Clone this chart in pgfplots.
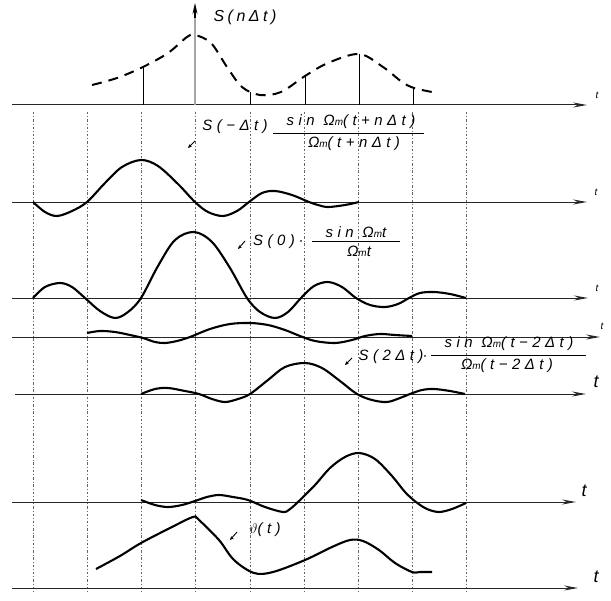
\documentclass[border=0pt]{standalone}
\usepackage{fontspec}
\setmainfont{Liberation Sans}
\newfontfamily\lab[LetterSpace=22]{Liberation Sans}
\newfontfamily\labw[LetterSpace=30]{Liberation Sans}
\usepackage{pgfplots}
\pgfplotsset{compat=1.18}
\usetikzlibrary{arrows.meta}
\newcommand{\sm}{{\fontsize{10}{11}\selectfont m}}
\tikzset{lbl/.style={font=\labw\itshape\fontsize{15}{17}\selectfont,inner sep=0pt}}
\begin{document}
\begin{tikzpicture}
\begin{axis}[width=611bp,height=601bp,scale only axis,
  xmin=0,xmax=611,ymin=0,ymax=601,y dir=reverse,hide axis,clip=false,
  curve/.style={black,line width=2.1bp,smooth,tension=0.55},
  ax/.style={black!85,line width=1bp,-{Stealth[length=14bp,width=5bp]}},
  grid/.style={black!60,line width=0.6bp,dash pattern=on 2.5bp off 2bp on 0.8bp off 2bp},
  stem/.style={black,line width=0.8bp},
  sarr/.style={black,line width=0.9bp,-{Stealth[length=4bp,width=3.5bp]}},
  ]
\addplot[draw=none] coordinates {(0,0) (611,601)};
% vertical dashed grid
\pgfplotsinvokeforeach{33,87,141,195,250,304,358,412,466}{
  \addplot[grid] coordinates {(#1,112) (#1,592)};
}
% axes
\addplot[ax] coordinates {(12,105) (587,105)};
\addplot[ax] coordinates {(12,202) (587,202)};
\addplot[ax] coordinates {(12,298) (588,298)};
\addplot[ax] coordinates {(12,337) (600,337)};
\addplot[ax] coordinates {(15,394) (586,394)};
\addplot[ax] coordinates {(12,502) (576,502)};
\addplot[ax] coordinates {(12,588) (578,588)};
% t labels
\node[lbl,font=\lab\itshape\fontsize{10}{11}\selectfont] at (axis cs:597,95) {t};
\node[lbl,font=\lab\itshape\fontsize{10}{11}\selectfont] at (axis cs:596,192) {t};
\node[lbl,font=\lab\itshape\fontsize{10}{11}\selectfont] at (axis cs:597,288) {t};
\node[lbl,font=\lab\itshape\fontsize{10}{11}\selectfont] at (axis cs:602,326) {t};
\node[lbl,font=\lab\itshape\fontsize{18}{20}\selectfont] at (axis cs:596,382) {t};
\node[lbl,font=\lab\itshape\fontsize{18}{20}\selectfont] at (axis cs:584,491) {t};
\node[lbl,font=\lab\itshape\fontsize{18}{20}\selectfont] at (axis cs:596,577) {t};
% top: sample sequence
\addplot[black,line width=2bp,dash pattern=on 10bp off 7bp,smooth,tension=0.55] coordinates {
(92,85)(117,78)(143,67)(168,53)(187,37)(195,35)(211,43)(227,67)(242,87)(260,95)(281,92)(305,76)(328,63)(359,54)(383,67)(402,82)(414,88)(432,92)};
\addplot[stem] coordinates {(143,105) (143,67)};
\addplot[stem] coordinates {(250,105) (250,92)};
\addplot[stem] coordinates {(305,105) (305,76)};
\addplot[stem] coordinates {(359,105) (359,54)};
\addplot[stem] coordinates {(413,105) (413,88)};
\addplot[black,line width=0.6bp,double=black!35,double distance=1.3bp] coordinates {(195,105) (195,16)};
\addplot[black,line width=1.2bp,-{Stealth[length=11bp,width=5bp]}] coordinates {(195,18) (195,3)};
\node[lbl,font=\lab\itshape\fontsize{16}{18}\selectfont] at (axis cs:245,17) {S(nΔt)};
% row 2
\addplot[curve] coordinates {
(33,202)(45,212)(57,216)(72,211)(87,202)(105,183)(122,167)(141,160)(158,166)(178,184)(195,202)(208,212)(223,216)(237,211)(249,202)(262,193)(275,191)(292,195)(309,202)(318,205)(328,207)(345,205)(359,202)};
\addplot[sarr] coordinates {(195,141) (188,148)};
\node[lbl] at (axis cs:235,127) {S(−Δt)};
\node[lbl] at (axis cs:351,122) {sin Ω\sm(t+nΔt)};
\addplot[black,line width=0.8bp] coordinates {(273,133) (424,133)};
\node[lbl] at (axis cs:354,144) {Ω\sm(t+nΔt)};
% row 3
\addplot[curve] coordinates {
(33,298)(45,287)(60,283)(72,287)(85,298)(100,311)(115,318)(128,312)(141,298)(158,266)(175,240)(194,232)(212,242)(230,268)(247,298)(260,312)(275,318)(288,312)(301,298)(314,286)(328,282)(342,287)(356,298)(370,305)(385,307)(398,304)(409,298)(420,293)(434,292)(450,294)(466,298)};
\addplot[sarr] coordinates {(245,241) (238,249)};
\node[lbl] at (axis cs:274,242) {S(0)};
\node[lbl] at (axis cs:301,243) {·};
\node[lbl] at (axis cs:356,232) {sin Ω\sm t};
\addplot[black,line width=0.8bp] coordinates {(312,241) (400,241)};
\node[lbl] at (axis cs:359,251) {Ω\sm t};
% row 4
\addplot[curve] coordinates {
(87,333)(100,331)(115,332)(130,335)(143,338)(155,342)(165,343)(177,341)(190,337)(210,329)(230,324)(250,323)(268,325)(285,330)(300,336)(315,341)(335,343)(352,340)(365,336)(380,334)(395,335)(412,336)};
% row 5
\addplot[curve] coordinates {
(141,394)(155,389)(168,388)(185,391)(199,394)(212,399)(225,402)(238,399)(250,394)(268,380)(285,367)(305,363)(322,368)(340,381)(357,394)(372,400)(387,402)(400,398)(410,394)(422,390)(434,389)(450,391)(465,394)};
\addplot[sarr] coordinates {(352,358) (345,365)};
\node[lbl] at (axis cs:391,357) {S(2Δt)};
\node[lbl] at (axis cs:425,358) {·};
\node[lbl] at (axis cs:509,344) {sin Ω\sm(t−2Δt)};
\addplot[black,line width=0.8bp] coordinates {(431,355) (586,355)};
\node[lbl] at (axis cs:507,366) {Ω\sm(t−2Δt)};
% row 6
\addplot[curve] coordinates {
(141,500)(155,505)(168,507)(182,505)(195,501)(207,497)(219,495)(233,497)(248,500)(265,507)(283,512)(290,509)(299,501)(315,485)(330,468)(345,457)(359,453)(375,459)(392,476)(405,492)(416,502)(427,509)(439,512)(452,509)(466,503)};
% row 7 theta(t)
\addplot[curve] coordinates {
(96,569)(120,556)(141,543)(172,527)(193,517)(199,520)(219,540)(234,560)(254,573)(273,572)(305,560)(332,547)(350,540)(363,541)(379,550)(395,563)(412,572)(420,572)(432,572)};
\addplot[sarr] coordinates {(237,532) (230,540)};
\node[lbl] at (axis cs:265,530) {$\vartheta$(t)};
\end{axis}
\end{tikzpicture}
\end{document}
